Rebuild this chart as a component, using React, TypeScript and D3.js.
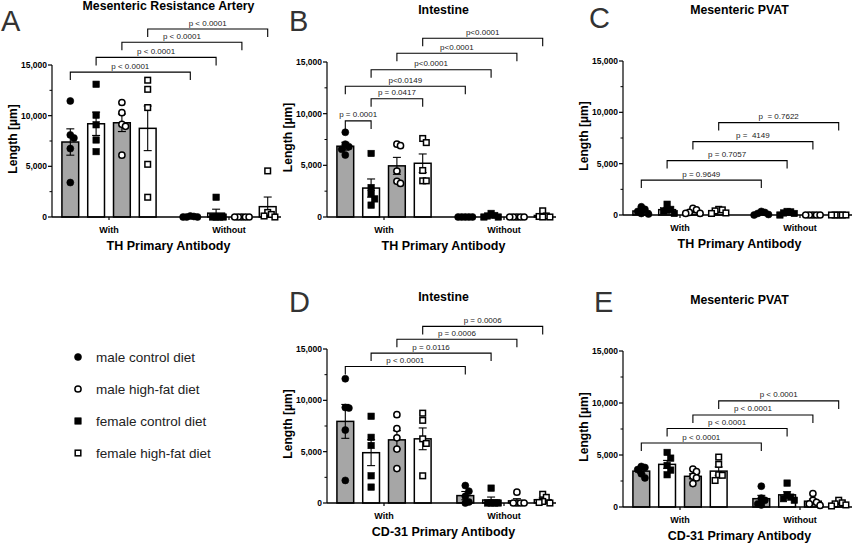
import * as d3 from 'd3'

// four animal groups, in bar order inside each antibody group
const series = [
  { key: 'mc', name: 'male control diet', shape: 'circle', filled: true, bar: 'gray' },
  { key: 'fc', name: 'female control diet', shape: 'square', filled: true, bar: 'white' },
  { key: 'mh', name: 'male high-fat diet', shape: 'circle', filled: false, bar: 'gray' },
  { key: 'fh', name: 'female high-fat diet', shape: 'square', filled: false, bar: 'white' },
]
const legendOrder = ['mc', 'mh', 'fc', 'fh']
const groups = ['With', 'Without']
const yTicks = [0, 5000, 10000, 15000]
const yMinorTicks = [2500, 7500, 12500]

// A - mesenteric resistance artery, TH
const aMeans = [7400, 9200, 9300, 8750, 30, 380, 0, 1020]
const aSems = [1300, 1150, 870, 2200, 20, 390, 0, 950]
const aPoints = [
  [11450, 8100, 7800, 6750, 3400],
  [13100, 10050, 9100, 7600, 6450],
  [11300, 10300, 9150, 8950, 6100],
  [13500, 12600, 10800, 5200, 1950],
  [100, 50, 0, 0, 0],
  [1950, 0, 0, 0, 0],
  [0, 0, 0, 0, 0],
  [4550, 450, 250, 100, 0],
]
const aBrackets = [
  { from: 0, to: 4, level: 14300, label: 'p < 0.0001' },
  { from: 1, to: 5, level: 15750, label: 'p < 0.0001' },
  { from: 2, to: 6, level: 17250, label: 'p < 0.0001' },
  { from: 3, to: 7, level: 18550, label: 'p < 0.0001' },
]

// B - intestine, TH
const bMeans = [6850, 2800, 4950, 5200, 0, 120, 0, 150]
const bSems = [380, 880, 820, 900, 0, 65, 0, 110]
const bPoints = [
  [8200, 7050, 6800, 6550, 6000],
  [6150, 2850, 2250, 1750, 1150],
  [7050, 6900, 4450, 3450, 3250],
  [7600, 7200, 4500, 3500, 3500],
  [0, 0, 0, 0, 0],
  [350, 150, 100, 0, 0],
  [0, 0, 0, 0, 0],
  [600, 100, 50, 0, 0],
]
const bBrackets = [
  { from: 0, to: 1, level: 9300, label: 'p = 0.0001' },
  { from: 1, to: 3, level: 11450, label: 'p = 0.0417' },
  { from: 0, to: 4, level: 12650, label: 'p<0.0149' },
  { from: 1, to: 5, level: 14250, label: 'p<0.0001' },
  { from: 2, to: 6, level: 15850, label: 'p<0.0001' },
  { from: 3, to: 7, level: 17300, label: 'p<0.0001' },
]

// C - mesenteric PVAT, TH
const cMeans = [390, 520, 340, 360, 160, 200, 0, 0]
const cSems = [130, 160, 100, 80, 70, 65, 0, 0]
const cPoints = [
  [800, 550, 350, 150, 100],
  [1050, 550, 450, 400, 150],
  [650, 500, 250, 150, 150],
  [550, 500, 400, 200, 150],
  [350, 250, 150, 50, 0],
  [350, 300, 200, 150, 0],
  [0, 0, 0, 0, 0],
  [0, 0, 0, 0, 0],
]
const cBrackets = [
  { from: 0, to: 4, level: 3400, label: 'p = 0.9649' },
  { from: 1, to: 5, level: 5300, label: 'p = 0.7057' },
  { from: 2, to: 6, level: 7150, label: 'p =  4149' },
  { from: 3, to: 7, level: 9000, label: 'p  = 0.7622' },
]

// D - intestine, CD-31
const dMeans = [7950, 4900, 6150, 6250, 720, 290, 210, 320]
const dSems = [1650, 1260, 890, 1060, 400, 290, 210, 170]
const dPoints = [
  [12100, 9300, 9250, 7100, 2200],
  [8450, 6400, 5600, 2650, 1550],
  [8600, 7250, 6350, 5250, 3350],
  [8750, 8050, 6250, 5800, 2650],
  [1700, 1150, 650, 100, 0],
  [1450, 0, 0, 0, 0],
  [1050, 0, 0, 0, 0],
  [850, 550, 150, 50, 0],
]
const dBrackets = [
  { from: 0, to: 4, level: 13300, label: 'p < 0.0001' },
  { from: 1, to: 5, level: 14600, label: 'p = 0.0116' },
  { from: 2, to: 6, level: 15950, label: 'p = 0.0006' },
  { from: 3, to: 7, level: 17200, label: 'p = 0.0006' },
]

// E - mesenteric PVAT, CD-31
const eMeans = [3450, 4100, 2950, 3450, 800, 1170, 560, 330]
const eSems = [200, 380, 240, 400, 320, 300, 200, 100]
const ePoints = [
  [3900, 3800, 3600, 3200, 2800],
  [5250, 4700, 4000, 3550, 3100],
  [3650, 3400, 2950, 2800, 2250],
  [4800, 4100, 3100, 3050, 2550],
  [2000, 850, 650, 300, 200],
  [2300, 1150, 950, 800, 650],
  [1300, 650, 450, 300, 150],
  [650, 400, 300, 200, 100],
]
const eBrackets = [
  { from: 0, to: 4, level: 6150, label: 'p < 0.0001' },
  { from: 1, to: 5, level: 7550, label: 'p < 0.0001' },
  { from: 2, to: 6, level: 8850, label: 'p < 0.0001' },
  { from: 3, to: 7, level: 10200, label: 'p < 0.0001' },
]

const panels = [
  { letter: 'A', title: 'Mesenteric Resistance Artery', xTitle: 'TH Primary Antibody', means: aMeans, sems: aSems, points: aPoints, brackets: aBrackets,
    left: 52, top: 65, zero: 217, titleY: 10, letterX: 1, letterY: 31 },
  { letter: 'B', title: 'Intestine', xTitle: 'TH Primary Antibody', means: bMeans, sems: bSems, points: bPoints, brackets: bBrackets,
    left: 327, top: 62, zero: 217, titleY: 14, letterX: 289, letterY: 31 },
  { letter: 'C', title: 'Mesenteric PVAT', xTitle: 'TH Primary Antibody', means: cMeans, sems: cSems, points: cPoints, brackets: cBrackets,
    left: 623, top: 61, zero: 215, titleY: 14, letterX: 589, letterY: 28 },
  { letter: 'D', title: 'Intestine', xTitle: 'CD-31 Primary Antibody', means: dMeans, sems: dSems, points: dPoints, brackets: dBrackets,
    left: 327, top: 349, zero: 503, titleY: 300.5, letterX: 289, letterY: 312 },
  { letter: 'E', title: 'Mesenteric PVAT', xTitle: 'CD-31 Primary Antibody', means: eMeans, sems: eSems, points: ePoints, brackets: eBrackets,
    left: 623, top: 351, zero: 507, titleY: 304, letterX: 594, letterY: 312 },
]

const FONT = '"Liberation Sans", Arial, Helvetica, sans-serif'
const GRAY = '#a6a6a6'
const R = 3.5
const SQ = 6.4

function Marker({ s, x, y }: { s: any; x: number; y: number }) {
  const fill = s.filled ? '#000' : '#fff'
  if (s.shape === 'circle') {
    return <circle cx={x} cy={y} r={s.filled ? R : R - 0.4} fill={fill} stroke="#000" strokeWidth={s.filled ? 0.6 : 1.5} />
  }
  const h = s.filled ? SQ / 2 : SQ / 2 - 0.4
  return <rect x={x - h} y={y - h} width={2 * h} height={2 * h} fill={fill} stroke="#000" strokeWidth={s.filled ? 0.6 : 1.5} />
}

// simple beeswarm: spread points sideways only where they would collide
function swarm(values: number[], y: (v: number) => number) {
  const placed: { dx: number; py: number; v: number }[] = []
  const sorted = [...values].sort((a, b) => b - a)
  for (const v of sorted) {
    const py = y(v)
    let dx = 0
    for (let k = 0; k < 20; k++) {
      const cand = k === 0 ? 0 : (k % 2 ? 1 : -1) * Math.ceil(k / 2) * 3.6
      const hit = placed.some(p => Math.abs(p.dx - cand) < 3.5 && Math.abs(p.py - py) < 6)
      if (!hit) { dx = cand; break }
    }
    placed.push({ dx, py, v })
  }
  return placed
}

function Panel({ p }: { p: any }) {
  const W = 229
  const x0 = p.left
  const y = d3.scaleLinear().domain([0, 15000]).range([p.zero, p.top])
  const outer = d3.scaleBand().domain(groups).range([x0 + 3, x0 + W + 2]).paddingInner(0.14).paddingOuter(0.02)
  const inner = d3.scaleBand().domain(series.map(s => s.key)).range([0, outer.bandwidth()]).paddingInner(0.35).paddingOuter(0.175)
  const bw = inner.bandwidth()
  const cx = (k: number) => (outer(groups[Math.floor(k / 4)]) as number) + (inner(series[k % 4].key) as number) + bw / 2
  const drop = 8

  return (
    <g>
      <text x={p.letterX} y={p.letterY} fontSize={29} fontFamily={FONT} fill="#333" fontWeight={300}>{p.letter}</text>
      <text x={x0 + W / 2 + 2} y={p.titleY} textAnchor="middle" fontSize={12.3} fontWeight="bold" fontFamily={FONT}>{p.title}</text>

      {/* y axis */}
      <line x1={x0} x2={x0} y1={y(0)} y2={y(15000)} stroke="#000" strokeWidth={1.2} />
      {yTicks.map(t => (
        <g key={t}>
          <line x1={x0 - 4} x2={x0} y1={y(t)} y2={y(t)} stroke="#000" strokeWidth={1.2} />
          <text x={x0 - 5} y={y(t)} dy="0.35em" textAnchor="end" fontSize={8.5} fontWeight="bold" fontFamily={FONT}>{d3.format(',')(t)}</text>
        </g>
      ))}
      {yMinorTicks.map(t => (
        <line key={t} x1={x0 - 2.5} x2={x0} y1={y(t)} y2={y(t)} stroke="#000" strokeWidth={1} />
      ))}
      <text transform={`translate(${x0 - 39},${(y(0) + y(15000)) / 2 - 2}) rotate(-90)`} textAnchor="middle" dy="0.35em"
        fontSize={12.1} fontWeight="bold" fontFamily={FONT}>Length [µm]</text>

      {/* bars */}
      {p.means.map((m: number, k: number) => (
        <rect key={k} x={cx(k) - bw / 2} y={y(m)} width={bw} height={y(0) - y(m)}
          fill={series[k % 4].bar === 'gray' ? GRAY : '#fff'} stroke="#000" strokeWidth={1.5} />
      ))}

      {/* x axis */}
      <line x1={x0} x2={x0 + W} y1={y(0)} y2={y(0)} stroke="#000" strokeWidth={1.3} />
      {groups.map(g => {
        const gx = (outer(g) as number) + outer.bandwidth() / 2
        return (
          <g key={g}>
            <line x1={gx} x2={gx} y1={y(0)} y2={y(0) + 3} stroke="#000" strokeWidth={1.2} />
            <text x={gx} y={y(0) + 16} textAnchor="middle" fontSize={9} fontWeight="bold" fontFamily={FONT}>{g}</text>
          </g>
        )
      })}
      <text x={x0 + W / 2 + 2} y={y(0) + 33} textAnchor="middle" fontSize={12.5} fontWeight="bold" fontFamily={FONT}>{p.xTitle}</text>

      {/* SEM error bars */}
      {p.means.map((m: number, k: number) => {
        const s = p.sems[k]
        if (!s) return null
        const x = cx(k)
        return (
          <g key={k} stroke="#000" strokeWidth={1.1}>
            <line x1={x} x2={x} y1={y(Math.max(0, m - s))} y2={y(m + s)} />
            <line x1={x - 4} x2={x + 4} y1={y(m + s)} y2={y(m + s)} />
            {m - s > 0 && <line x1={x - 4} x2={x + 4} y1={y(m - s)} y2={y(m - s)} />}
          </g>
        )
      })}

      {/* individual animals */}
      {p.points.map((vals: number[], k: number) =>
        swarm(vals, y).map((pt, i) => (
          <Marker key={k + '-' + i} s={series[k % 4]} x={cx(k) + pt.dx} y={pt.py} />
        ))
      )}

      {/* comparison brackets */}
      {p.brackets.map((b: any, i: number) => {
        const x1 = cx(b.from)
        const x2 = cx(b.to)
        const ly = y(b.level)
        return (
          <g key={i}>
            <path d={`M${x1},${ly + drop}V${ly}H${x2}V${ly + drop}`} fill="none" stroke="#000" strokeWidth={1.1} />
            <text x={(x1 + x2) / 2} y={ly - 3.5} textAnchor="middle" fontSize={8} fontFamily={FONT} fill="#222"
              style={{ whiteSpace: 'pre' }}>{b.label}</text>
          </g>
        )
      })}
    </g>
  )
}

export default function App() {
  const legendY = d3.scalePoint().domain(legendOrder).range([357, 453])
  return (
    <div style={{ position: 'absolute', left: 0, top: 0 }}>
      <svg width={858} height={544} style={{ display: 'block', background: '#fff' }}>
        {panels.map(p => <Panel key={p.letter} p={p} />)}
        {legendOrder.map(key => {
          const s = series.find(d => d.key === key)!
          const ly = legendY(key) as number
          return (
            <g key={key}>
              <Marker s={s} x={78} y={ly} />
              <text x={96} y={ly} dy="0.35em" fontSize={13.5} fontFamily={FONT} fill="#222">{s.name}</text>
            </g>
          )
        })}
      </svg>
    </div>
  )
}
